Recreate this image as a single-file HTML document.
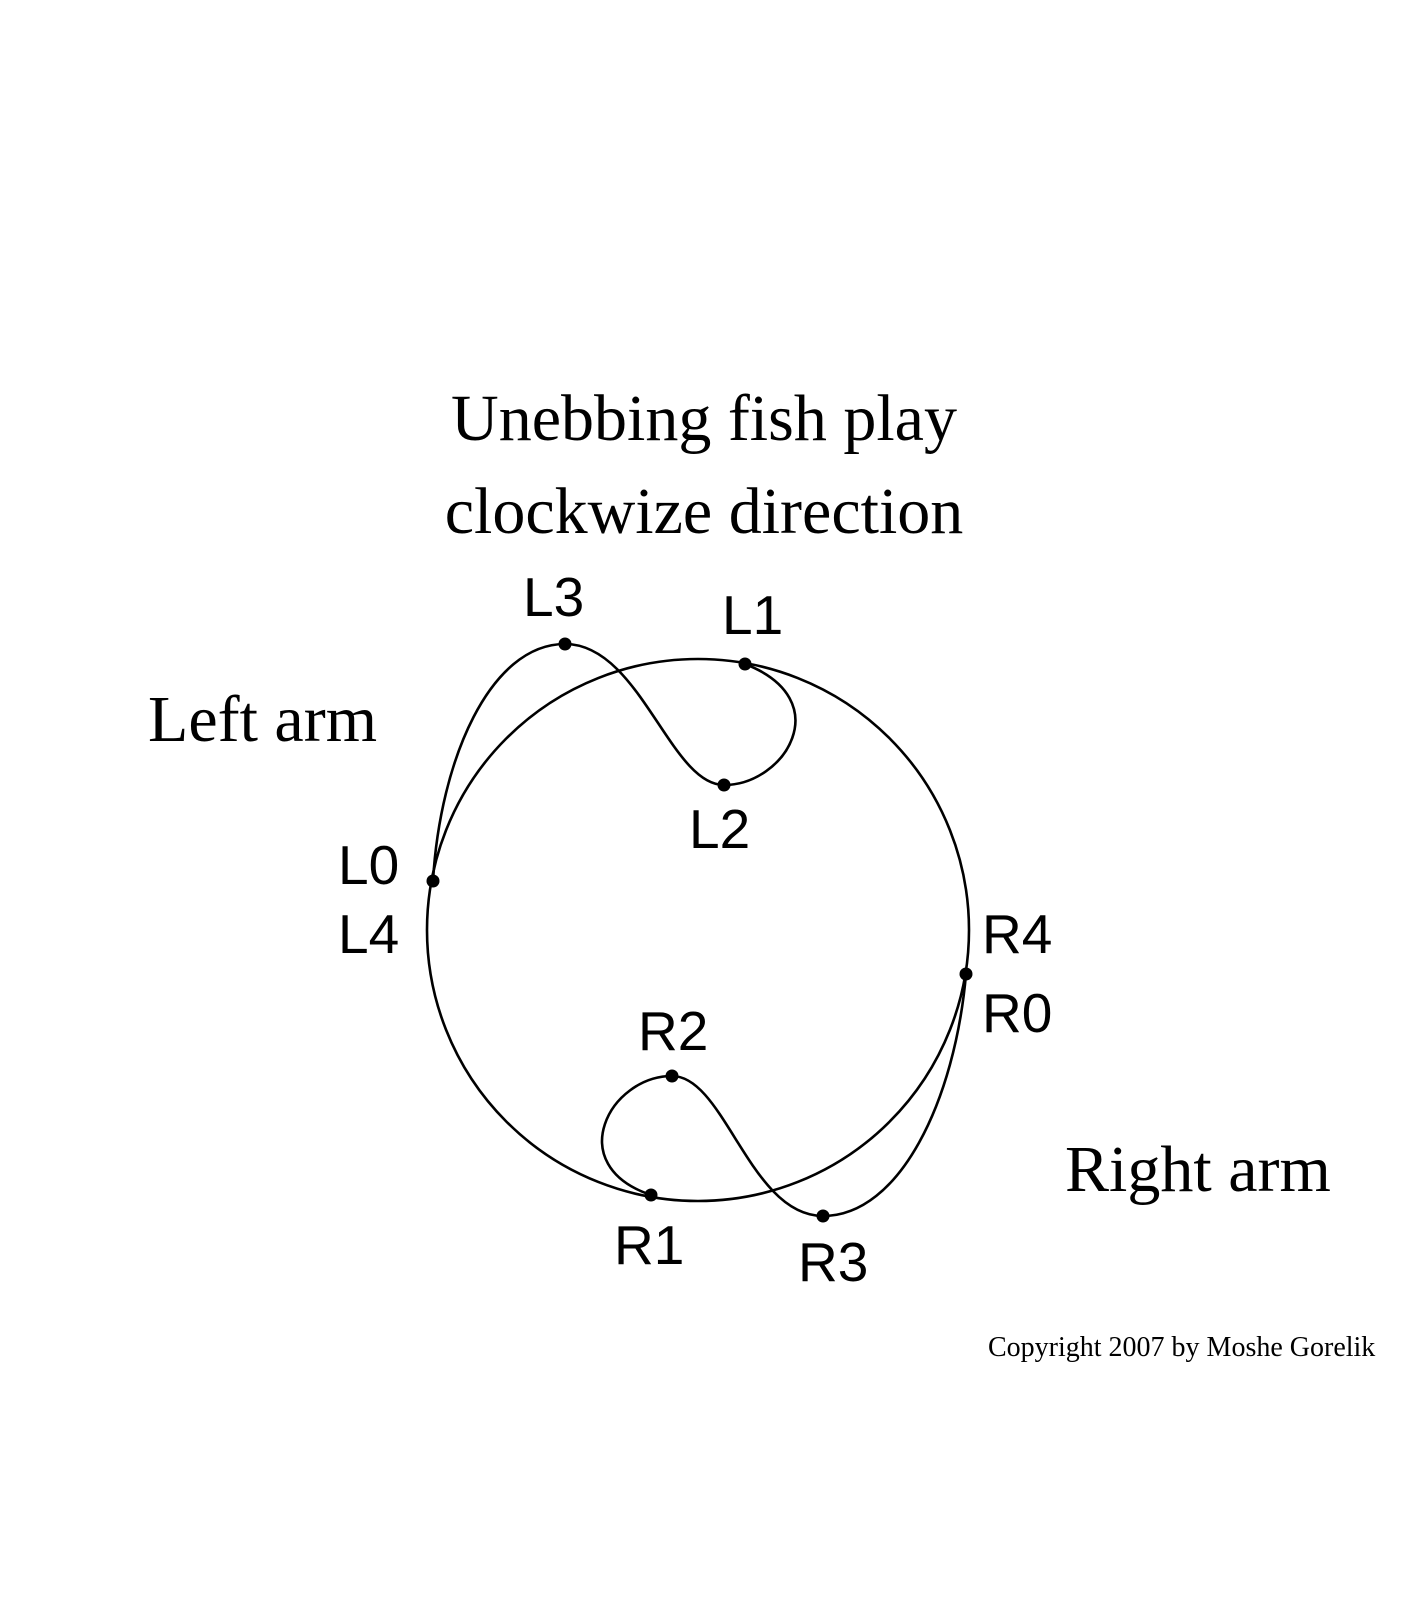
<!DOCTYPE html>
<html><head><meta charset="utf-8"><style>
html,body{margin:0;padding:0;background:#fff;}
</style></head><body>
<svg width="1406" height="1600" xmlns="http://www.w3.org/2000/svg">
<rect width="1406" height="1600" fill="#fff"/>
<g font-family="Liberation Serif, serif" fill="#000">
<text x="704" y="440" font-size="66" text-anchor="middle">Unebbing fish play</text>
<text x="704" y="533" font-size="66" text-anchor="middle">clockwize direction</text>
<text x="148" y="741" font-size="66">Left arm</text>
<text x="1065" y="1191" font-size="66">Right arm</text>
<text x="988" y="1356" font-size="28">Copyright 2007 by Moshe Gorelik</text>
</g>
<g fill="none" stroke="#000" stroke-width="2.6">
<circle cx="698" cy="930" r="271"/>
<path d="M433,881 C440,760 490,644 565,644 C640,644 670,785 724,785 C785,785 838,700 745,664"/>
<path d="M966,974 C955,1100 900,1216 823,1216 C750,1216 725,1076 672,1076 C610,1076 562,1165 651,1195"/>
</g>
<g fill="#000">
<circle cx="433" cy="881" r="6.5"/><circle cx="745" cy="664" r="6.5"/><circle cx="724" cy="785" r="6.5"/><circle cx="565" cy="644" r="6.5"/>
<circle cx="966" cy="974" r="6.5"/><circle cx="651" cy="1195" r="6.5"/><circle cx="672" cy="1076" r="6.5"/><circle cx="823" cy="1216" r="6.5"/>
</g>
<g font-family="Liberation Sans, sans-serif" font-size="55" fill="#000">
<text x="523" y="616">L3</text>
<text x="722" y="634">L1</text>
<text x="689" y="848">L2</text>
<text x="338" y="884">L0</text>
<text x="338" y="953">L4</text>
<text x="982" y="953">R4</text>
<text x="982" y="1032">R0</text>
<text x="638" y="1050">R2</text>
<text x="614" y="1264">R1</text>
<text x="798" y="1281">R3</text>
</g>
</svg>
</body></html>
